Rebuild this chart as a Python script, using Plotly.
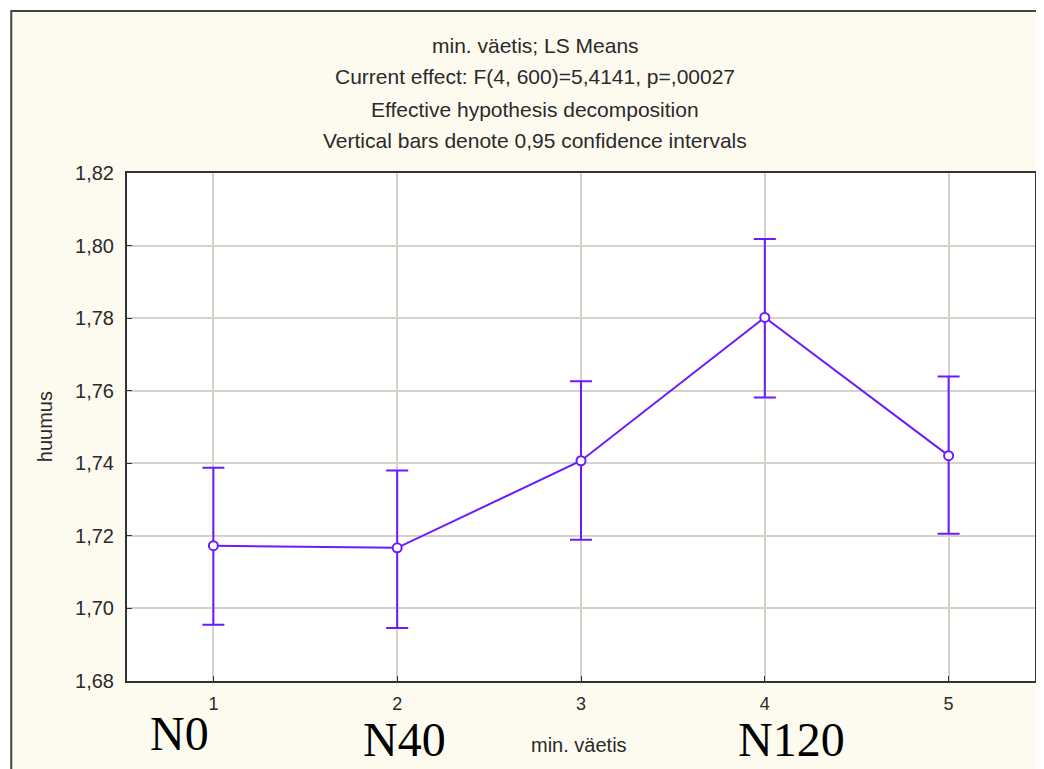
import plotly.graph_objects as go

# Data
x_vals = [1, 2, 3, 4, 5]
means = [1.7173, 1.7167, 1.7407, 1.7802, 1.7421]
ci_upper = [1.7388, 1.7380, 1.7626, 1.8018, 1.7639]
ci_lower = [1.6955, 1.6946, 1.7189, 1.7581, 1.7206]
y_ticks = [1.68, 1.70, 1.72, 1.74, 1.76, 1.78, 1.80, 1.82]
title_lines = [
    "min. väetis; LS Means",
    "Current effect: F(4, 600)=5,4141, p=,00027",
    "Effective hypothesis decomposition",
    "Vertical bars denote 0,95 confidence intervals",
]
group_labels = ["N0", "N40", "N120"]

err_plus = [u - m for u, m in zip(ci_upper, means)]
err_minus = [m - l for m, l in zip(means, ci_lower)]

# page is offset by the default 8px body margin
OFF = 8
W, H = 1044 - OFF, 769 - OFF
L, R, T, B = 127 - OFF, 7, 173 - OFF, 88
pw, ph = W - L - R, H - T - B

def px(xp):  # page pixel x -> paper
    return (xp - OFF - L) / pw

def py(yp):  # page pixel y -> paper
    return (H - B - (yp - OFF)) / ph

purple = "#6A1BFF"
sans = "Liberation Sans, Arial, sans-serif"
txt = "#2a2a2a"

fig = go.Figure()
fig.add_trace(go.Scatter(
    x=x_vals, y=means, mode="lines+markers",
    line=dict(color=purple, width=2),
    marker=dict(symbol="circle", size=9, color="white",
                line=dict(color=purple, width=2)),
    error_y=dict(type="data", symmetric=False, array=err_plus,
                 arrayminus=err_minus, color=purple, thickness=2, width=11),
    showlegend=False,
))

# cream frame background
fig.add_shape(type="rect", xref="paper", yref="paper",
              x0=px(11), x1=px(1044 + 40), y0=py(769 + 40), y1=py(11),
              fillcolor="#FDFBF0", line=dict(color="#444444", width=2),
              layer="below")
# white plot area
fig.add_shape(type="rect", xref="paper", yref="paper",
              x0=0, x1=1, y0=0, y1=1,
              fillcolor="white", line=dict(width=0),
              layer="below")

annotations = []
for i, line in enumerate(title_lines):
    annotations.append(dict(
        x=px(536), y=py(45 + 32 * i), xref="paper", yref="paper",
        text=line, showarrow=False, xanchor="center", yanchor="middle",
        font=dict(family=sans, size=21, color=txt),
    ))

big_pos = [(180, 733), (405, 739), (793, 739)]
for lab, (bx, by) in zip(group_labels, big_pos):
    annotations.append(dict(
        x=px(bx), y=py(by), xref="paper", yref="paper",
        text=lab, showarrow=False, xanchor="center", yanchor="middle",
        font=dict(family="Liberation Serif, Times New Roman, serif", size=48, color="black"),
    ))

annotations.append(dict(
    x=px(580), y=py(745), xref="paper", yref="paper",
    text="min. väetis", showarrow=False, xanchor="center", yanchor="middle",
    font=dict(family=sans, size=20, color=txt),
))
annotations.append(dict(
    x=px(45), y=py(427), xref="paper", yref="paper",
    text="huumus", showarrow=False, xanchor="center", yanchor="middle",
    textangle=-90,
    font=dict(family=sans, size=20, color=txt),
))

fig.update_layout(
    width=W, height=H,
    margin=dict(l=L, r=R, t=T, b=B),
    paper_bgcolor="white",
    plot_bgcolor="white",
    separators=",.",
    annotations=annotations,
    xaxis=dict(
        range=[0.53, 5.47], tickvals=x_vals, ticktext=[str(v) for v in x_vals],
        showgrid=True, gridcolor="#D6D2C8", gridwidth=2,
        showline=True, linecolor="#333333", linewidth=2, mirror=True,
        ticks="inside", ticklen=5, tickcolor="#333333",
        tickfont=dict(family=sans, size=18, color=txt),
        ticklabelstandoff=5,
        zeroline=False,
    ),
    yaxis=dict(
        range=[1.68, 1.82], tickvals=y_ticks, tickformat=".2f",
        showgrid=True, gridcolor="#D6D2C8", gridwidth=2,
        showline=True, linecolor="#333333", linewidth=2, mirror=True,
        ticks="inside", ticklen=5, tickcolor="#333333",
        tickfont=dict(family=sans, size=20, color=txt),
        ticklabelstandoff=7,
        zeroline=False,
    ),
)

fig.write_html("out.html")
